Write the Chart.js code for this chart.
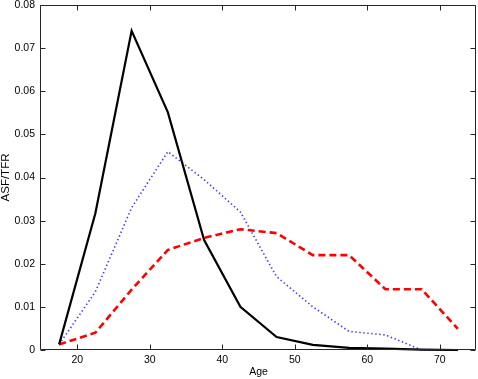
<!DOCTYPE html>
<html>
<head>
<meta charset="utf-8">
<script src="https://cdn.jsdelivr.net/npm/chart.js@4/dist/chart.umd.min.js"></script>
<style>
  html, body { margin: 0; padding: 0; background: #fff; }
  #wrap { width: 478px; height: 379px; }
</style>
</head>
<body>
<div id="wrap"><canvas id="asfChart" width="478" height="379"></canvas></div>
<script>
// age group midpoints
const ages = [17.5, 22.5, 27.5, 32.5, 37.5, 42.5, 47.5, 52.5, 57.5, 62.5, 67.5, 72.5];

// ASF/TFR per age group
const solidBlack = [0.0013, 0.0317, 0.0740, 0.0551, 0.0255, 0.0100, 0.0030, 0.0012, 0.0005, 0.0003, 0.0001, 0.0000];
const dottedBlue = [0.0013, 0.0135, 0.0330, 0.0460, 0.0395, 0.0320, 0.0170, 0.0100, 0.0043, 0.0035, 0.0000, 0.0000];
const dashedRed  = [0.0013, 0.0040, 0.0140, 0.0232, 0.0260, 0.0280, 0.0271, 0.0220, 0.0220, 0.0141, 0.0141, 0.0049];

const xTicks = [20, 30, 40, 50, 60, 70];
const yTicks = [0, 0.01, 0.02, 0.03, 0.04, 0.05, 0.06, 0.07, 0.08];

const FONT = "'Liberation Sans', Arial, Helvetica, sans-serif";

function toPoints(vals) {
  return ages.map((a, i) => ({ x: a, y: vals[i] }));
}

// box round the plot + inward ticks on all four sides (matlab look)
const framePlugin = {
  id: 'frame',
  afterDatasetsDraw(chart) {
    const { ctx, chartArea: a, scales: { x, y } } = chart;
    const L = Math.round(a.left) - 0.5, R = Math.round(a.right) - 0.5;
    const T = Math.round(a.top) + 0.5, B = Math.round(a.bottom) - 0.5;
    const len = 5;
    ctx.save();
    ctx.strokeStyle = '#262626';
    ctx.lineWidth = 1;
    ctx.beginPath();
    ctx.rect(L, T, R - L, B - T);
    xTicks.forEach(v => {
      const px = Math.round(x.getPixelForValue(v)) + 0.5;
      ctx.moveTo(px, B); ctx.lineTo(px, B - len);
      ctx.moveTo(px, T); ctx.lineTo(px, T + len);
    });
    yTicks.forEach(v => {
      const py = Math.round(y.getPixelForValue(v)) + 0.5;
      ctx.moveTo(L, py); ctx.lineTo(L + len, py);
      ctx.moveTo(R, py); ctx.lineTo(R - len, py);
    });
    ctx.stroke();
    ctx.restore();
  }
};

new Chart(document.getElementById('asfChart'), {
  type: 'line',
  data: {
    datasets: [
      {
        data: toPoints(solidBlack),
        borderColor: '#000000',
        borderWidth: 2.2,
        pointRadius: 0,
        tension: 0,
        clip: false
      },
      {
        data: toPoints(dottedBlue),
        borderColor: '#3a3aff',
        borderWidth: 1.6,
        borderDash: [1.4, 2.6],
        pointRadius: 0,
        tension: 0,
        clip: false
      },
      {
        data: toPoints(dashedRed),
        borderColor: '#ff0000',
        borderWidth: 2.6,
        borderDash: [7, 4],
        pointRadius: 0,
        tension: 0,
        clip: false
      }
    ]
  },
  options: {
    responsive: false,
    animation: false,
    events: [],
    layout: { padding: { top: 5, right: 2, left: 0, bottom: 0 } },
    plugins: {
      legend: { display: false },
      tooltip: { enabled: false }
    },
    scales: {
      x: {
        type: 'linear',
        min: 15,
        max: 75,
        grid: { display: false, drawTicks: false },
        border: { display: false },
        afterBuildTicks: s => { s.ticks = xTicks.map(v => ({ value: v })); },
        afterFit: s => { s.height = 29; s.paddingLeft = 0; s.paddingRight = 0; },
        ticks: {
          color: '#000',
          padding: 4,
          maxRotation: 0,
          font: { family: FONT, size: 10.5 },
          callback: v => String(v)
        },
        title: {
          display: true,
          text: 'Age',
          color: '#000',
          padding: { top: 0, bottom: 1 },
          font: { family: FONT, size: 10.5, lineHeight: 1.2 }
        }
      },
      y: {
        type: 'linear',
        min: 0,
        max: 0.08,
        grid: { display: false, drawTicks: false },
        border: { display: false },
        afterBuildTicks: s => { s.ticks = yTicks.map(v => ({ value: v })); },
        afterFit: s => { s.width = 41; s.paddingTop = 0; s.paddingBottom = 0; },
        ticks: {
          color: '#000',
          padding: 6,
          font: { family: FONT, size: 10.5 },
          callback: v => (v === 0 ? '0' : v.toFixed(2))
        },
        title: {
          display: true,
          text: 'ASF/TFR',
          color: '#000',
          padding: { top: 0, bottom: 0 },
          font: { family: FONT, size: 11.5, lineHeight: 1 }
        }
      }
    }
  },
  plugins: [framePlugin]
});
</script>
</body>
</html>
